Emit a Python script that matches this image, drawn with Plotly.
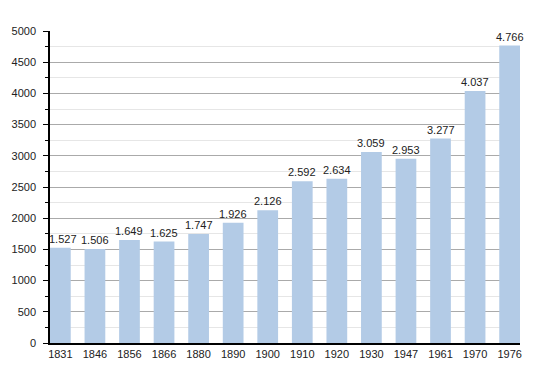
import plotly.graph_objects as go

years = ["1831", "1846", "1856", "1866", "1880", "1890", "1900", "1910", "1920", "1930", "1947", "1961", "1970", "1976"]
population = [1527, 1506, 1649, 1625, 1747, 1926, 2126, 2592, 2634, 3059, 2953, 3277, 4037, 4766]
labels = [f"{v:,}".replace(",", ".") for v in population]
y_ticks = [0, 500, 1000, 1500, 2000, 2500, 3000, 3500, 4000, 4500, 5000]

xs = list(range(len(years)))
fig = go.Figure()
fig.add_trace(go.Bar(
    x=xs, y=population,
    width=0.6,
    marker=dict(color="#b3cbe6", line=dict(width=0)),
    hoverinfo="skip",
))
for xi, v, lab in zip(xs, population, labels):
    fig.add_annotation(
        x=xi, y=v, text=lab, showarrow=False,
        yanchor="bottom", xanchor="center", yshift=1,
        xshift=3 if xi == 0 else 0,
        font=dict(family="Liberation Sans, Arial, sans-serif", size=11, color="#222"),
    )

fig.update_layout(
    width=550, height=373,
    margin=dict(l=50, r=30, t=31, b=30),
    paper_bgcolor="white", plot_bgcolor="white",
    showlegend=False,
    font=dict(family="Liberation Sans, Arial, sans-serif", size=11, color="#222"),
    xaxis=dict(
        range=[-0.3, 13.3],
        tickmode="array", tickvals=xs, ticktext=years,
        showgrid=False, showline=True, linecolor="black", linewidth=1.5,
        ticks="", zeroline=False,
    ),
    yaxis=dict(
        range=[0, 5000],
        tickmode="array", tickvals=y_ticks,
        showgrid=True, gridcolor="#aaaaaa", gridwidth=1,
        showline=True, linecolor="black", linewidth=1.5,
        ticks="outside", ticklen=5, tickcolor="black",
        ticklabelstandoff=5,
        zeroline=False,
        minor=dict(dtick=250, showgrid=True, gridcolor="#e6e6e6", ticks="outside", ticklen=3, tickcolor="black"),
    ),
)

fig.write_html(
    "out.html",
    config={"displayModeBar": False},
    post_script="document.body.style.margin='0';document.body.style.padding='0';",
)
